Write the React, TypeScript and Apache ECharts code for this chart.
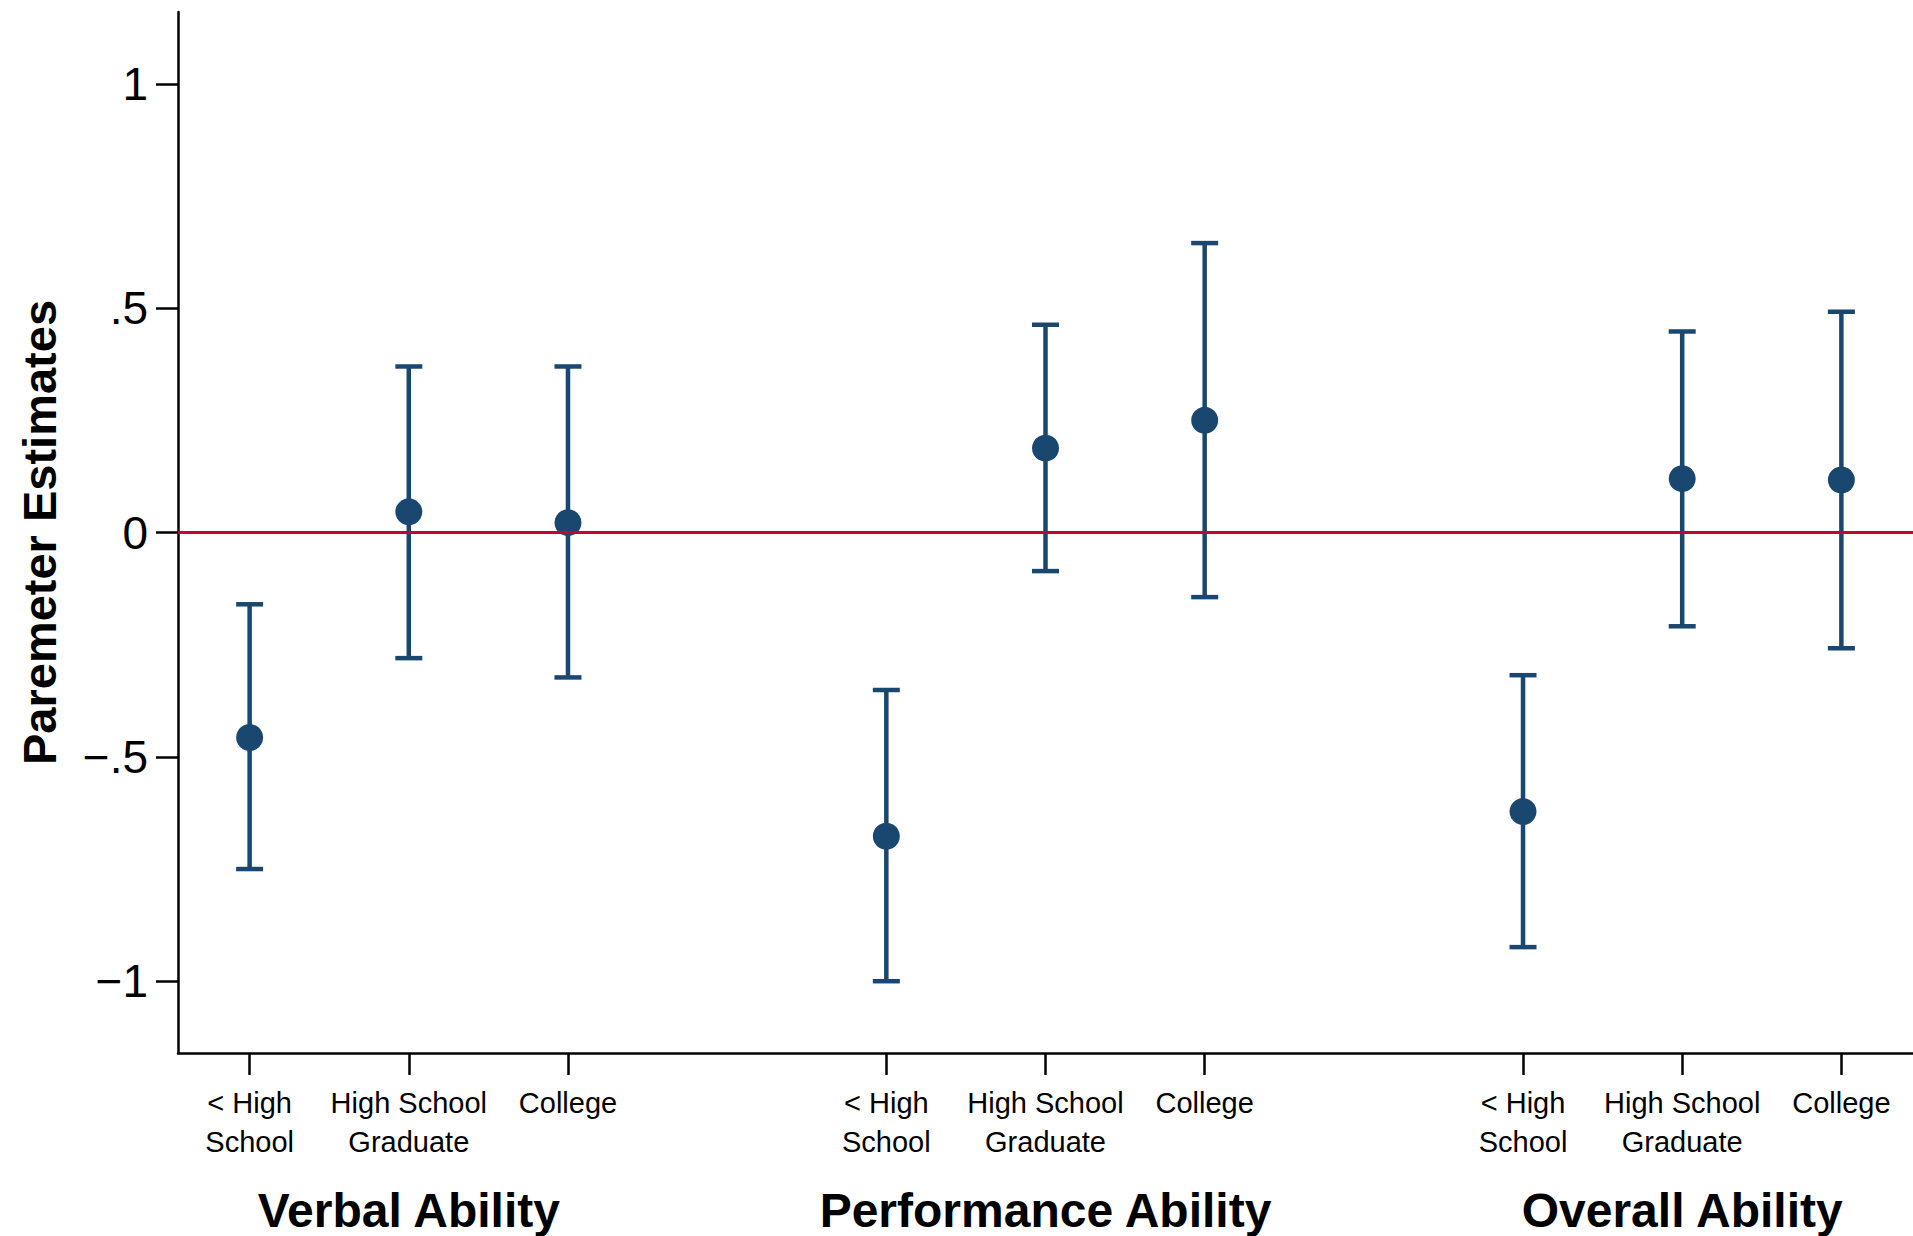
import React, { useEffect, useRef } from "react";
import * as echarts from "echarts";

const categories = ["< High\nSchool", "High School\nGraduate", "College"];
const groups = ["Verbal Ability", "Performance Ability", "Overall Ability"];
const positions = [1, 2, 3, 5, 6, 7, 9, 10, 11];
const groupCenters = [2, 6, 10];
const estimates = [-0.457, 0.046, 0.022, -0.677, 0.188, 0.25, -0.622, 0.12, 0.117];
const upper = [-0.16, 0.37, 0.37, -0.351, 0.463, 0.645, -0.318, 0.448, 0.492];
const lower = [-0.75, -0.28, -0.323, -1.0, -0.086, -0.144, -0.924, -0.209, -0.258];
const yTicks = [-1, -0.5, 0, 0.5, 1];
const yTickLabels = ["\u22121", "\u2212.5", "0", ".5", "1"];

const NAVY = "#1a476f";
const RED = "#c10534";
const FONT = "'Liberation Sans', Arial, Helvetica, sans-serif";

export default function App() {
  const ref = useRef<HTMLDivElement>(null);
  useEffect(() => {
    if (!ref.current) return;
    const chart = echarts.init(ref.current, null, { renderer: "svg" });
    const catLabel = (v: number) => {
      const i = positions.indexOf(Math.round(v));
      return i >= 0 ? categories[i % 3] : "";
    };
    const grpLabel = (v: number) => {
      const i = groupCenters.indexOf(Math.round(v));
      return i >= 0 ? groups[i] : "";
    };
    const yLabel = (v: number) => {
      const i = yTicks.findIndex((t) => Math.abs(t - v) < 1e-6);
      return i >= 0 ? yTickLabels[i] : "";
    };
    chart.setOption({
      animation: false,
      backgroundColor: "#ffffff",
      grid: { left: 178, right: 0, top: 12, bottom: 183, containLabel: false },
      xAxis: [
        {
          type: "value",
          min: 0.55,
          max: 11.45,
          splitLine: { show: false },
          axisLine: { show: true, onZero: false, lineStyle: { color: "#000", width: 2.5 } },
          axisTick: {
            show: true,
            length: 22,
            customValues: positions,
            lineStyle: { color: "#000", width: 2.5 },
          },
          axisLabel: {
            show: true,
            customValues: positions,
            formatter: catLabel,
            margin: 30,
            fontSize: 29,
            lineHeight: 39,
            color: "#000",
            fontFamily: FONT,
            verticalAlign: "top",
          },
        },
        {
          type: "value",
          position: "bottom",
          min: 0.55,
          max: 11.45,
          splitLine: { show: false },
          axisLine: { show: false, onZero: false },
          axisTick: { show: false },
          axisLabel: {
            show: true,
            customValues: groupCenters,
            formatter: grpLabel,
            margin: 133,
            fontSize: 48,
            fontWeight: "bold",
            lineHeight: 48,
            color: "#000",
            fontFamily: FONT,
            verticalAlign: "top",
          },
        },
      ],
      yAxis: {
        type: "value",
        min: -1.16,
        max: 1.16,
        name: "Paremeter Estimates",
        nameLocation: "middle",
        nameGap: 115,
        nameTextStyle: { fontSize: 47, fontWeight: "bold", color: "#000", fontFamily: FONT },
        splitLine: { show: false },
        axisLine: { show: true, lineStyle: { color: "#000", width: 2.5 } },
        axisTick: {
          show: true,
          length: 22,
          customValues: yTicks,
          lineStyle: { color: "#000", width: 2.5 },
        },
        axisLabel: {
          show: true,
          customValues: yTicks,
          formatter: yLabel,
          margin: 30,
          fontSize: 46,
          color: "#000",
          fontFamily: FONT,
        },
      },
      series: [
        {
          type: "line",
          data: [],
          z: 1,
          markLine: {
            silent: true,
            symbol: "none",
            label: { show: false },
            lineStyle: { color: RED, width: 3, type: "solid" },
            data: [{ yAxis: 0 }],
          },
        },
        {
          type: "custom",
          z: 2,
          xAxisIndex: 0,
          data: positions.map((p, i) => [p, lower[i], upper[i]]),
          encode: { x: 0, y: [1, 2] },
          renderItem: (params: any, api: any) => {
            const x = api.value(0);
            const lo = api.coord([x, api.value(1)]);
            const hi = api.coord([x, api.value(2)]);
            const w = 13.5;
            const style = { stroke: NAVY, lineWidth: 4.5 };
            return {
              type: "group",
              children: [
                { type: "line", shape: { x1: lo[0], y1: lo[1], x2: hi[0], y2: hi[1] }, style },
                { type: "line", shape: { x1: hi[0] - w, y1: hi[1], x2: hi[0] + w, y2: hi[1] }, style },
                { type: "line", shape: { x1: lo[0] - w, y1: lo[1], x2: lo[0] + w, y2: lo[1] }, style },
              ],
            };
          },
        },
        {
          type: "scatter",
          z: 3,
          xAxisIndex: 0,
          symbol: "circle",
          symbolSize: 27,
          itemStyle: { color: NAVY, opacity: 1 },
          data: positions.map((p, i) => [p, estimates[i]]),
        },
      ],
    });
    return () => chart.dispose();
  }, []);
  return (
    <div
      ref={ref}
      style={{ position: "absolute", left: 0, top: 0, width: 1913, height: 1236 }}
    />
  );
}
